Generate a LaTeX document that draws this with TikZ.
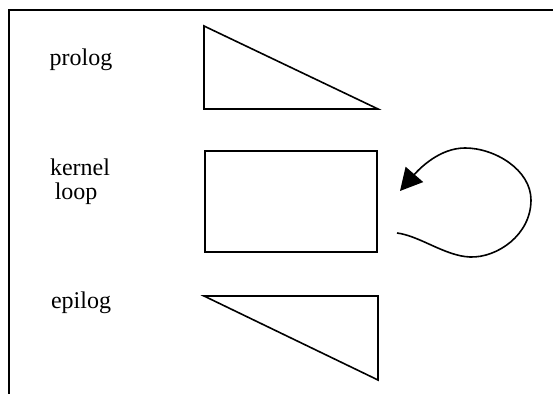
\documentclass[tikz,border=0pt]{standalone}
\usepackage{fontspec}
\setmainfont{Liberation Serif}
\usetikzlibrary{positioning,arrows.meta}

\tikzset{
  outline/.style={draw, line width=0.8pt, line join=miter},
  lbl/.style={font=\fontsize{12}{12}\selectfont, inner sep=0pt},
  stage/.style={outline, inner sep=0pt, minimum width=86pt, minimum height=50.5pt},
}

\begin{document}
\begin{tikzpicture}[x=0.5pt,y=-0.5pt]
\useasboundingbox (0,0) rectangle (553,394);

  % frame, open at the bottom and the right
  \draw[outline] (9,394) -- (9,10) -- (553,10);

  % kernel body
  \node[stage, anchor=north west] (kernel) at (204,150) {};

  % prolog wedge
  \coordinate (pro-top) at (204,26);
  \coordinate (pro-bl)  at (204,109);
  \coordinate (pro-br)  at (378,109);
  \draw[outline] (pro-top) -- (pro-bl) -- (pro-br) -- cycle;

  % epilog wedge
  \coordinate (epi-tl) at (204,296);
  \coordinate (epi-tr) at (378,296);
  \coordinate (epi-br) at (378,380);
  \draw[outline] (epi-tl) -- (epi-tr) -- (epi-br) -- cycle;

  % labels
  \node[lbl] (prolog) at (81,60) {prolog};
  \node[lbl, align=left] (kloop) at (80,182) {kernel\\\hspace{0.2em}loop};
  \node[lbl] (epilog) at (81,303) {epilog};

  % back edge of the loop
  \coordinate (loop-in)  at (397,233);
  \coordinate (loop-out) at (400,191);
  \draw[outline, -{Triangle[length=11pt,width=11.5pt]}]
    (loop-in) .. controls (420,236) and (445,256) .. (470,257)
              .. controls (497,258) and (531,235) .. (531,200)
              .. controls (531,170) and (495,148) .. (465,148)
              .. controls (440,148) and (420,168) .. (loop-out);

\end{tikzpicture}
\end{document}
